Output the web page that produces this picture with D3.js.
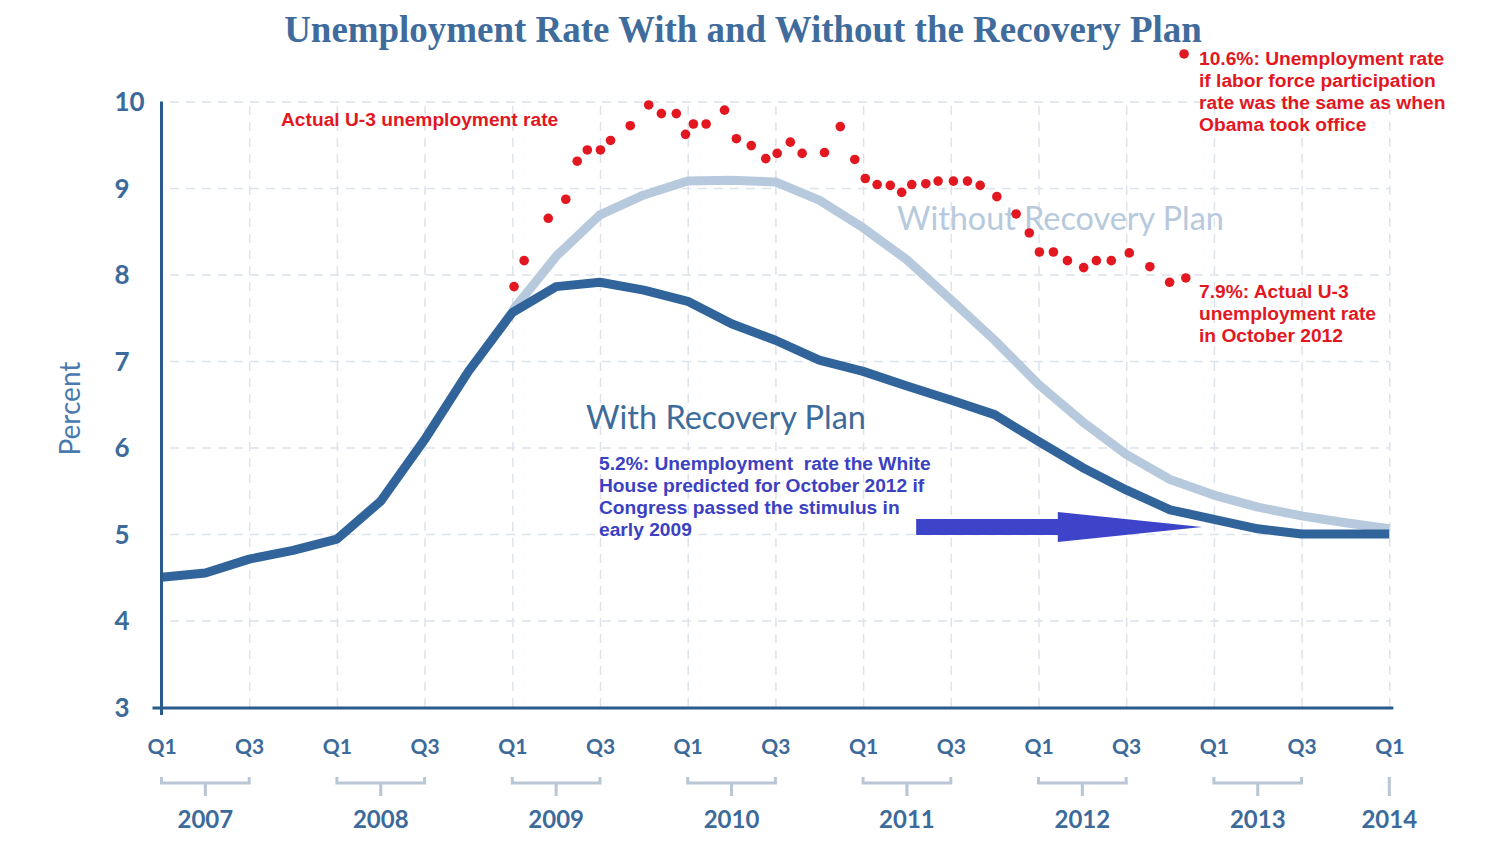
<!DOCTYPE html>
<html>
<head>
<meta charset="utf-8">
<script src="https://cdn.jsdelivr.net/npm/d3@7"></script>
<style>
  html, body { margin: 0; padding: 0; background: #fff; }
  svg { display: block; }
</style>
</head>
<body>
<div id="chart"></div>
<script>
// quarters counted from Q1 2007 (0) to Q1 2014 (28)
var quarterTicks = d3.range(0, 29, 2);
var quarterLabels = ['Q1', 'Q3'];
var years = ['2007', '2008', '2009', '2010', '2011', '2012', '2013'];
var lastYear = '2014';
var yTicks = [3, 4, 5, 6, 7, 8, 9, 10];

// unemployment rate projection with the recovery plan, one value per quarter
var withPlan = [4.50, 4.55, 4.71, 4.81, 4.94, 5.38, 6.09, 6.88, 7.56, 7.86, 7.91, 7.82,
                7.69, 7.43, 7.24, 7.01, 6.88, 6.71, 6.55, 6.38, 6.07, 5.77, 5.51, 5.28,
                5.17, 5.06, 5.00, 5.00, 5.00];
// without the plan, starting at Q1 2009 (quarter 8)
var withoutStart = 8;
var withoutPlan = [7.58, 8.21, 8.69, 8.92, 9.08, 9.09, 9.07, 8.86, 8.54, 8.17, 7.71,
                   7.24, 6.73, 6.30, 5.92, 5.63, 5.45, 5.31, 5.21, 5.13, 5.06];

// monthly actual U-3 dots (quarter position, percent)
var actualQ = [8.04, 8.27, 8.82, 9.22, 9.48, 9.71, 10.01, 10.24, 10.69, 11.11, 11.40, 11.74,
               11.95, 12.13, 12.42, 12.84, 13.11, 13.45, 13.78, 14.04, 14.34, 14.61, 15.12, 15.48,
               15.81, 16.05, 16.32, 16.62, 16.88, 17.11, 17.43, 17.71, 18.06, 18.38, 18.67, 19.05,
               19.49, 19.79, 20.02, 20.34, 20.66, 21.03, 21.32, 21.66, 22.07, 22.54, 22.99, 23.36];
var actualRate = [7.86, 8.16, 8.65, 8.87, 9.31, 9.44, 9.44, 9.55, 9.72, 9.96, 9.86, 9.86,
                  9.62, 9.74, 9.74, 9.90, 9.57, 9.49, 9.34, 9.40, 9.53, 9.40, 9.41, 9.71,
                  9.33, 9.11, 9.04, 9.03, 8.95, 9.04, 9.05, 9.08, 9.08, 9.08, 9.03, 8.90,
                  8.70, 8.48, 8.26, 8.26, 8.16, 8.08, 8.16, 8.16, 8.25, 8.09, 7.91, 7.96];
// participation-adjusted rate
var adjustedPoint = {q: 23.32, v: 10.55};
// arrow to the White House prediction (quarter from, quarter to, percent)
var arrowFrom = 17.21, arrowHead = 20.44, arrowTo = 23.73, arrowRate = 5.08;

var W = 1501, H = 851;
var DARK = '#30649a', LIGHT = '#b7c9dc', AXIS = '#2a5b8d', TXT = '#3c6a9b',
    GRID = '#dde3eb', RED = '#e2171f', ARROW = '#3d44c9';

var svg = d3.select('#chart').append('svg').attr('width', W).attr('height', H);

var x = d3.scaleLinear().domain([0, 28]).range([161.5, 1389.3]);
var y = d3.scaleLinear().domain([3, 10]).range([707, 101.5]);

// fit a text node's font size to a given width
function fitWidth(sel, width) {
    var fs = parseFloat(sel.attr('font-size'));
    var len = sel.node().getComputedTextLength();
    if (len > 0) { sel.attr('font-size', fs * width / len); }
}

// title
var title = svg.append('text')
    .attr('x', 743).attr('y', 42)
    .attr('text-anchor', 'middle')
    .attr('font-family', 'Liberation Serif, serif')
    .attr('font-weight', 'bold')
    .attr('font-size', 32)
    .attr('fill', '#3f6c9c')
    .text('Unemployment Rate With and Without the Recovery Plan');
fitWidth(title, 918);

// grid: horizontal
svg.append('g')
    .attr('transform', 'translate(170,0)')
    .call(d3.axisLeft(y).tickValues(yTicks.slice(1)).tickSize(-(x(28) - 170)).tickFormat(''))
    .call(function(g) {
        g.select('.domain').remove();
        g.selectAll('line').attr('stroke', GRID).attr('stroke-width', 1.5)
            .attr('stroke-dasharray', '9,7');
    });
// grid: vertical
svg.append('g')
    .attr('transform', 'translate(0,' + y(3) + ')')
    .call(d3.axisBottom(x).tickValues(quarterTicks.slice(1)).tickSize(-(y(3) - y(10))).tickFormat(''))
    .call(function(g) {
        g.select('.domain').remove();
        g.selectAll('line').attr('stroke', GRID).attr('stroke-width', 1.5)
            .attr('stroke-dasharray', '9,7');
    });

// lines
var line = d3.line()
    .x(function(d) { return x(d.q); })
    .y(function(d) { return y(d.v); });

var withoutData = withoutPlan.map(function(v, i) { return {q: withoutStart + i, v: v}; });
var withData = withPlan.map(function(v, i) { return {q: i, v: v}; });

svg.append('path').datum(withoutData)
    .attr('d', line).attr('fill', 'none')
    .attr('stroke', LIGHT).attr('stroke-width', 9)
    .attr('stroke-linejoin', 'round');
svg.append('path').datum(withData)
    .attr('d', line).attr('fill', 'none')
    .attr('stroke', DARK).attr('stroke-width', 9)
    .attr('stroke-linejoin', 'round');

// axes lines
svg.append('line')
    .attr('x1', x(0) - 9).attr('x2', x(28) + 4)
    .attr('y1', y(3) + 1).attr('y2', y(3) + 1)
    .attr('stroke', AXIS).attr('stroke-width', 3);
svg.append('line')
    .attr('x1', x(0)).attr('x2', x(0))
    .attr('y1', y(10)).attr('y2', y(3) + 8)
    .attr('stroke', AXIS).attr('stroke-width', 3);

// y tick labels
svg.append('g')
    .attr('transform', 'translate(' + x(0) + ',0)')
    .call(d3.axisLeft(y).tickValues(yTicks).tickSize(0).tickFormat(d3.format('d')))
    .call(function(g) {
        g.select('.domain').remove();
        g.selectAll('text')
            .attr('x', -47)
            .attr('dy', '0.36em')
            .attr('text-anchor', 'start')
            .attr('font-family', 'Lato, sans-serif')
            .attr('font-weight', 'bold')
            .attr('font-size', 26)
            .attr('fill', TXT);
    });

svg.append('text')
    .attr('transform', 'translate(80,' + y(6.45) + ') rotate(-90)')
    .attr('text-anchor', 'middle')
    .attr('font-family', 'Lato, sans-serif')
    .attr('font-size', 28)
    .attr('fill', '#4a7aad')
    .text('Percent');

// quarter labels
svg.append('g')
    .attr('transform', 'translate(0,' + y(3) + ')')
    .call(d3.axisBottom(x).tickValues(quarterTicks).tickSize(0).tickPadding(32)
        .tickFormat(function(d) { return quarterLabels[(d / 2) % 2]; }))
    .call(function(g) {
        g.select('.domain').remove();
        g.selectAll('text')
            .attr('font-family', 'Lato, sans-serif')
            .attr('font-weight', 'bold')
            .attr('font-size', 21)
            .attr('fill', TXT);
    });

// year brackets
var brackets = svg.append('g').attr('class', 'years');
var yb = 783;
years.forEach(function(yr, i) {
    var q0 = i * 4, q1 = i * 4 + 2, qm = i * 4 + 1;
    brackets.append('path')
        .attr('d', 'M' + x(q0) + ',' + (yb - 6) + 'V' + yb + 'H' + x(q1) + 'V' + (yb - 6) +
            'M' + x(qm) + ',' + yb + 'V' + (yb + 13))
        .attr('fill', 'none').attr('stroke', '#b9c6d6').attr('stroke-width', 3);
    brackets.append('text')
        .attr('x', x(qm)).attr('y', 828)
        .attr('text-anchor', 'middle')
        .attr('font-family', 'Lato, sans-serif')
        .attr('font-weight', 'bold')
        .attr('font-size', 24)
        .attr('fill', TXT)
        .text(yr);
});
brackets.append('line')
    .attr('x1', x(28)).attr('x2', x(28))
    .attr('y1', yb - 6).attr('y2', yb + 13)
    .attr('stroke', '#b9c6d6').attr('stroke-width', 3);
brackets.append('text')
    .attr('x', x(28)).attr('y', 828)
    .attr('text-anchor', 'middle')
    .attr('font-family', 'Lato, sans-serif')
    .attr('font-weight', 'bold')
    .attr('font-size', 24)
    .attr('fill', TXT)
    .text(lastYear);

// series labels
var withoutLbl = svg.append('text')
    .attr('x', 897).attr('y', 230)
    .attr('font-family', 'Lato, sans-serif')
    .attr('font-size', 31)
    .attr('fill', LIGHT)
    .text('Without Recovery Plan');
fitWidth(withoutLbl, 327);
var withLbl = svg.append('text')
    .attr('x', 586).attr('y', 429)
    .attr('font-family', 'Lato, sans-serif')
    .attr('font-size', 31)
    .attr('fill', '#3d6b9b')
    .text('With Recovery Plan');
fitWidth(withLbl, 280);

// actual dots
var dots = actualQ.map(function(q, i) { return {q: q, v: actualRate[i]}; });
dots.push(adjustedPoint);
svg.append('g').selectAll('circle')
    .data(dots).enter().append('circle')
    .attr('cx', function(d) { return x(d.q); })
    .attr('cy', function(d) { return y(d.v); })
    .attr('r', 4.8)
    .attr('fill', RED);

// arrow
var ay = y(arrowRate);
svg.append('path')
    .attr('d', 'M' + x(arrowFrom) + ',' + (ay - 8) + 'H' + x(arrowHead) + 'V' + (ay - 15) +
        'L' + x(arrowTo) + ',' + ay + 'L' + x(arrowHead) + ',' + (ay + 15) + 'V' + (ay + 8) +
        'H' + x(arrowFrom) + 'Z')
    .attr('fill', ARROW);

// annotations
function note(lines, x0, y0, color) {
    var t = svg.append('text')
        .attr('font-family', 'Liberation Sans, Arial, sans-serif')
        .attr('font-weight', 'bold')
        .attr('font-size', 19.2)
        .attr('fill', color)
        .style('white-space', 'pre');
    lines.forEach(function(l, i) {
        t.append('tspan').attr('x', x0).attr('y', y0 + i * 22).text(l);
    });
}
note(['Actual U-3 unemployment rate'], 281, 126, RED);
note(['10.6%: Unemployment rate', 'if labor force participation',
      'rate was the same as when', 'Obama took office'], 1199, 65, RED);
note(['7.9%: Actual U-3', 'unemployment rate', 'in October 2012'], 1199, 298, RED);
note(['5.2%: Unemployment  rate the White', 'House predicted for October 2012 if',
      'Congress passed the stimulus in', 'early 2009'], 599, 470, '#3b41c1');
</script>
</body>
</html>
